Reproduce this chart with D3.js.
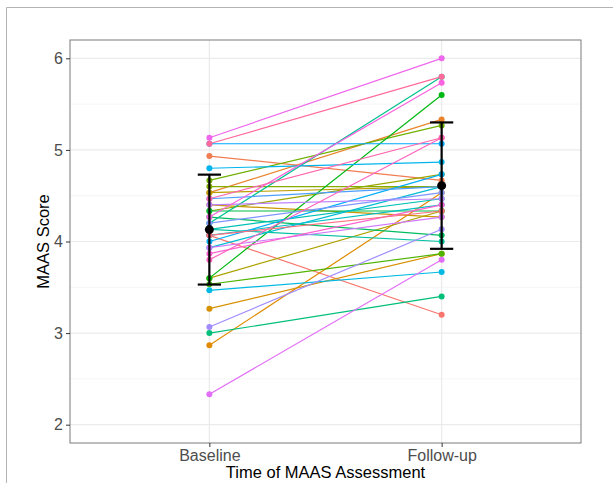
<!DOCTYPE html>
<html>
<head>
<meta charset="utf-8">
<script src="https://cdn.jsdelivr.net/npm/d3@7"></script>
<style>
  body { margin: 0; background: #fff; }
  text { font-family: "Liberation Sans", Arial, sans-serif; }
</style>
</head>
<body>
<div class="chart"></div>
<script>
// subjects in id order (id order sets the colour, like ggplot's hue palette)
let baseline = [4.067, 4.933, 4.533, 2.867, 3.267, 4.400, 4.533, 3.600, 4.333, 4.600,
                4.667, 3.533, 3.600, 4.333, 4.267, 3.000, 4.200, 4.133, 4.133, 4.067,
                3.933, 3.467, 4.800, 4.000, 5.067, 4.467, 4.200, 3.067, 4.400, 3.933,
                2.333, 5.133, 4.267, 3.867, 3.800, 4.467, 5.067, 4.067];
let followup = [3.200, 4.667, 5.333, 4.533, 3.867, 4.267, 4.600, 4.333, 4.733, 4.600,
                5.267, 3.867, 5.600, 4.333, 4.067, 3.400, 5.800, 4.000, 4.467, 4.400,
                4.600, 3.667, 4.867, 4.733, 5.067, 4.600, 4.533, 4.133, 4.467, 4.267,
                3.800, 6.000, 5.733, 4.400, 5.133, 5.133, 5.800, 4.333];
let times = ["Baseline", "Follow-up"];
let groupMean = [4.13, 4.61];
let groupLow = [3.53, 3.92];
let groupHigh = [4.73, 5.30];
let yTicks = [2, 3, 4, 5, 6];

// R's hcl() (polar LUV) so the colours match ggplot's default hue palette
function hclR(h, c, l) {
    let hr = h * Math.PI / 180;
    let U = c * Math.cos(hr), V = c * Math.sin(hr);
    let Y = l > 8 ? 100 * Math.pow((l + 16) / 116, 3) : 100 * l / 903.3;
    let u = U / (13 * l) + 0.1978398;
    let v = V / (13 * l) + 0.4683363;
    let X = 9 * Y * u / (4 * v);
    let Z = -X / 3 - 5 * Y + 3 * Y / v;
    let g = t => {
        t = t <= 0.0031308 ? 12.92 * t : 1.055 * Math.pow(t, 1 / 2.4) - 0.055;
        return Math.round(Math.max(0, Math.min(1, t)) * 255);
    };
    let r = g((3.240479 * X - 1.537150 * Y - 0.498535 * Z) / 100);
    let gg = g((-0.969256 * X + 1.875992 * Y + 0.041556 * Z) / 100);
    let b = g((0.055648 * X - 0.204043 * Y + 1.057311 * Z) / 100);
    return d3.rgb(r, gg, b).formatHex();
}

function init() {
    let margin = { top: 40, right: 32, bottom: 40, left: 70 };
    let width = 613 - margin.left - margin.right;
    let height = 483 - margin.top - margin.bottom;

    let n = baseline.length;
    let ids = d3.range(n);
    let color = d3.scaleOrdinal()
        .domain(ids)
        .range(ids.map(i => hclR(15 + 360 * i / n, 100, 65)));

    // discrete x with ggplot's 0.6 expansion
    let xScale = d3.scalePoint()
        .domain(times)
        .range([width * 0.6 / 2.2, width * 1.6 / 2.2]);

    let yScale = d3.scaleLinear()
        .domain([1.8, 6.2])
        .range([height, 0]);

    let svg = d3.select(".chart").append("svg")
        .attr("width", 613)
        .attr("height", 483);

    // outer frame
    svg.append("path")
        .attr("d", "M6.5,483 V7.5 H613")
        .attr("fill", "none")
        .attr("stroke", "#b3b3b3")
        .attr("stroke-width", 1);

    let plot = svg.append("g")
        .attr("class", "plot")
        .attr("transform", `translate(${margin.left},${margin.top})`);

    // minor grid
    let minor = d3.range(2.5, 6.5, 1);
    plot.selectAll(".minor").data(minor).enter().append("line")
        .attr("x1", 0).attr("x2", width)
        .attr("y1", d => yScale(d)).attr("y2", d => yScale(d))
        .attr("stroke", "#f3f3f3").attr("stroke-width", 0.8);

    // major grid
    plot.selectAll(".majorY").data(yTicks).enter().append("line")
        .attr("x1", 0).attr("x2", width)
        .attr("y1", d => yScale(d)).attr("y2", d => yScale(d))
        .attr("stroke", "#ebebeb").attr("stroke-width", 1.2);
    plot.selectAll(".majorX").data(times).enter().append("line")
        .attr("y1", 0).attr("y2", height)
        .attr("x1", d => xScale(d)).attr("x2", d => xScale(d))
        .attr("stroke", "#ebebeb").attr("stroke-width", 1.2);

    // subject lines
    let line = d3.line()
        .x(d => xScale(d.t))
        .y(d => yScale(d.v));
    let subjects = ids.map(i => ({
        id: i,
        pts: [{ t: times[0], v: baseline[i] }, { t: times[1], v: followup[i] }]
    }));
    plot.selectAll(".subj").data(subjects).enter().append("path")
        .attr("d", d => line(d.pts))
        .attr("fill", "none")
        .attr("stroke", d => color(d.id))
        .attr("stroke-width", 1.2);

    // subject points
    subjects.forEach(s => {
        plot.selectAll(null).data(s.pts).enter().append("circle")
            .attr("cx", d => xScale(d.t))
            .attr("cy", d => yScale(d.v))
            .attr("r", 3)
            .attr("fill", color(s.id));
    });

    // mean +/- sd, cap width 0.1 of a category
    let cap = xScale.step() * 0.1 / 2;
    times.forEach((t, i) => {
        let x = xScale(t);
        plot.append("line")
            .attr("x1", x).attr("x2", x)
            .attr("y1", yScale(groupLow[i])).attr("y2", yScale(groupHigh[i]))
            .attr("stroke", "#000").attr("stroke-width", 2.2);
        [groupLow[i], groupHigh[i]].forEach(v => {
            plot.append("line")
                .attr("x1", x - cap).attr("x2", x + cap)
                .attr("y1", yScale(v)).attr("y2", yScale(v))
                .attr("stroke", "#000").attr("stroke-width", 2.2);
        });
        plot.append("circle")
            .attr("cx", x).attr("cy", yScale(groupMean[i]))
            .attr("r", 4.5).attr("fill", "#000");
    });

    // panel border
    plot.append("rect")
        .attr("x", 0).attr("y", 0)
        .attr("width", width).attr("height", height)
        .attr("fill", "none")
        .attr("stroke", "#7a7a7a")
        .attr("stroke-width", 1);

    // axes
    let xAxis = plot.append("g")
        .attr("transform", `translate(0,${height})`)
        .call(d3.axisBottom(xScale).tickSize(4).tickPadding(3));
    let yAxis = plot.append("g")
        .call(d3.axisLeft(yScale).tickValues(yTicks).tickFormat(d3.format("d"))
            .tickSize(4).tickPadding(3));
    [xAxis, yAxis].forEach(a => {
        a.select(".domain").remove();
        a.selectAll(".tick line").attr("stroke", "#333");
        a.selectAll(".tick text")
            .attr("fill", "#4d4d4d")
            .style("font-size", "16px")
            .style("font-family", "'Liberation Sans', Arial, sans-serif");
    });

    svg.append("text")
        .attr("x", margin.left + width / 2)
        .attr("y", 478)
        .attr("text-anchor", "middle")
        .style("font-size", "16.5px")
        .attr("fill", "#000")
        .text("Time of MAAS Assessment");

    svg.append("text")
        .attr("transform", `translate(49,${margin.top + height / 2}) rotate(-90)`)
        .attr("text-anchor", "middle")
        .style("font-size", "16.5px")
        .attr("fill", "#000")
        .text("MAAS Score");
}

init();
</script>
</body>
</html>
